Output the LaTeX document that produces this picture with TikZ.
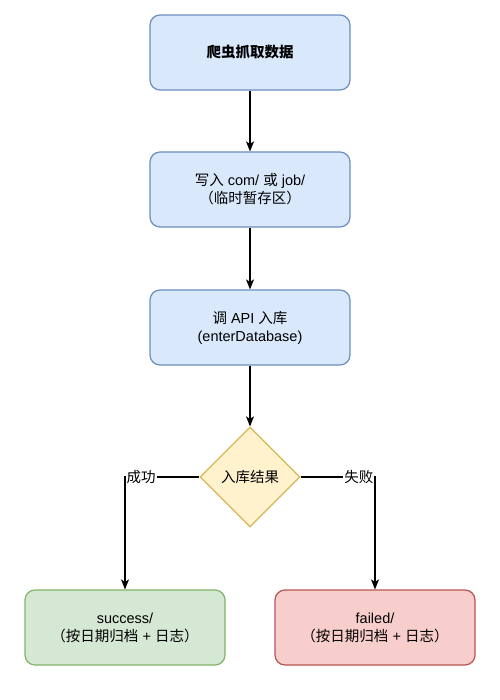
\documentclass[tikz,border=0pt]{standalone}
\usepackage{fontspec}
\setmainfont{Liberation Sans}
\newfontfamily\cjk{Noto Sans CJK SC}
\usetikzlibrary{shapes.geometric,arrows.meta}
\definecolor{blueFill}{HTML}{DAE8FC}
\definecolor{blueLine}{HTML}{6C8EBF}
\definecolor{yellowFill}{HTML}{FFF2CC}
\definecolor{yellowLine}{HTML}{D6B656}
\definecolor{greenFill}{HTML}{D5E8D4}
\definecolor{greenLine}{HTML}{82B366}
\definecolor{redFill}{HTML}{F8CECC}
\definecolor{redLine}{HTML}{B85450}
\tikzset{
  stepbox/.style={rectangle, rounded corners=10pt, line width=1.2pt,
    minimum width=200pt, minimum height=75pt, align=center, inner sep=0pt},
  checkbox/.style={diamond, aspect=1, line width=1.2pt, minimum size=100pt,
    inner sep=0pt, fill=yellowFill, draw=yellowLine},
  flow/.style={line width=1.3pt, -{Stealth[length=10pt,width=8pt,inset=2.5pt]}},
  edgelabel/.style={fill=white, inner sep=1pt}
}
\begin{document}
\begin{tikzpicture}[x=1pt,y=-1pt]
\useasboundingbox (0,0) rectangle (499,700);
{\fontsize{14.5}{18}\selectfont

% Crawler step
\node [stepbox, fill=blueFill, draw=blueLine] (crawl) at (250,52.5) {\cjk\bfseries 爬虫抓取数据};

% Staging step
\node [stepbox, fill=blueFill, draw=blueLine] (stage) at (250,189.5) {{\cjk 写入} com/ {\cjk 或} job/\\{\cjk （临时暂存区）}};

% API step
\node [stepbox, fill=blueFill, draw=blueLine] (api) at (250,327.5) {{\cjk 调} API {\cjk 入库}\\(enterDatabase)};

% Decision
\node [checkbox] (result) at (250,477) {\cjk 入库结果};

% Success folder
\node [stepbox, fill=greenFill, draw=greenLine] (okdir) at (125,627.5) {success/\\{\cjk （按日期归档} + {\cjk 日志）}};

% Failed folder
\node [stepbox, fill=redFill, draw=redLine] (faildir) at (375,627.5) {failed/\\{\cjk （按日期归档} + {\cjk 日志）}};

% Connectors
\draw [flow] (crawl) -- (stage);
\draw [flow] (stage) -- (api);
\draw [flow] (api) -- (result);
\draw [flow] (result.west) -| node [pos=0.5, anchor=west, edgelabel] {\cjk 成功} (okdir.north);
\draw [flow] (result.east) -| node [pos=0.5, anchor=east, edgelabel] {\cjk 失败} (faildir.north);
}
\end{tikzpicture}
\end{document}
